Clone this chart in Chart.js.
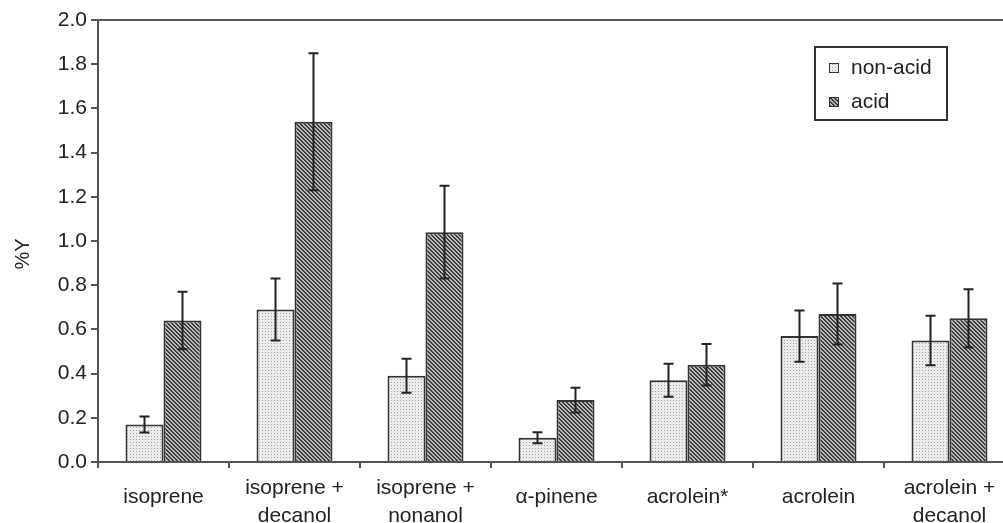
<!DOCTYPE html>
<html lang="en">
<head>
  <meta charset="UTF-8">
  <title>%Y acid / non-acid</title>
  <script src="https://cdn.jsdelivr.net/npm/chart.js"></script>
  <style>
    html, body { margin: 0; padding: 0; background: #fff; overflow: hidden; }
    .grafico { position: relative; width: 1020px; height: 523px; }
  </style>
</head>
<body>
  <div class="grafico">
    <canvas id="myChartCanvas"></canvas>
  </div>

<script>
  // categories (x axis), one entry per line of the label
  const categorias = [
    ['isoprene'],
    ['isoprene +', 'decanol'],
    ['isoprene +', 'nonanol'],
    ['\u03b1-pinene'],
    ['acrolein*'],
    ['acrolein'],
    ['acrolein +', 'decanol']
  ];

  // series values
  const naoAcido = [0.17, 0.69, 0.39, 0.11, 0.37, 0.57, 0.55];
  const erroNaoAcido = [0.036, 0.14, 0.077, 0.025, 0.075, 0.116, 0.112];
  const acido = [0.64, 1.54, 1.04, 0.28, 0.44, 0.67, 0.65];
  const erroAcido = [0.13, 0.31, 0.21, 0.056, 0.094, 0.138, 0.132];

  const nomesSeries = ['non-acid', 'acid'];
  const tituloY = '%Y';

  const fonte = '"Liberation Sans", Arial, sans-serif';
  const corTexto = '#222';

  // fill patterns (dotted light grey, diagonal dark hatch)
  function padraoPontos() {
    const c = document.createElement('canvas');
    c.width = 3; c.height = 3;
    const ctx = c.getContext('2d');
    ctx.fillStyle = '#ececec';
    ctx.fillRect(0, 0, 3, 3);
    ctx.fillStyle = '#a2a2a2';
    ctx.fillRect(1, 1, 1, 1);
    return ctx.createPattern(c, 'repeat');
  }

  function padraoHachura() {
    const c = document.createElement('canvas');
    c.width = 4; c.height = 4;
    const ctx = c.getContext('2d');
    ctx.fillStyle = '#bcbcbc';
    ctx.fillRect(0, 0, 4, 4);
    ctx.fillStyle = '#3a3a3a';
    for (let y = 0; y < 4; y++) {
      ctx.fillRect(y % 4, y, 1, 1);
      ctx.fillRect((y + 1) % 4, y, 1, 1);
    }
    return ctx.createPattern(c, 'repeat');
  }

  const preenchimentos = [padraoPontos(), padraoHachura()];

  // error bars drawn from the bar elements
  const pluginErros = {
    id: 'erros',
    afterDatasetsDraw(chart) {
      const ctx = chart.ctx;
      const y = chart.scales.y;
      ctx.save();
      ctx.strokeStyle = '#222';
      ctx.lineWidth = 2;
      chart.data.datasets.forEach(function (ds, d) {
        const meta = chart.getDatasetMeta(d);
        meta.data.forEach(function (bar, i) {
          const v = ds.data[i];
          const e = ds.erros[i];
          const yTop = y.getPixelForValue(v + e);
          const yBot = y.getPixelForValue(v - e);
          ctx.beginPath();
          ctx.moveTo(bar.x, yTop);
          ctx.lineTo(bar.x, yBot);
          ctx.moveTo(bar.x - 5, yTop);
          ctx.lineTo(bar.x + 5, yTop);
          ctx.moveTo(bar.x - 5, yBot);
          ctx.lineTo(bar.x + 5, yBot);
          ctx.stroke();
        });
      });
      ctx.restore();
    }
  };

  // x labels: single line sits a bit lower than wrapped ones
  const pluginRotulos = {
    id: 'rotulos',
    afterDraw(chart) {
      const ctx = chart.ctx;
      const x = chart.scales.x;
      const base = chart.chartArea.bottom;
      ctx.save();
      ctx.font = '21px ' + fonte;
      ctx.fillStyle = corTexto;
      ctx.textAlign = 'center';
      ctx.textBaseline = 'middle';
      categorias.forEach(function (linhas, i) {
        const px = x.getPixelForValue(i);
        if (linhas.length == 1) {
          ctx.fillText(linhas[0], px, base + 35);
        } else {
          ctx.fillText(linhas[0], px, base + 26);
          ctx.fillText(linhas[1], px, base + 54);
        }
      });

      // y axis title, rotated
      ctx.font = '20px ' + fonte;
      ctx.translate(23, 254);
      ctx.rotate(-Math.PI / 2);
      ctx.fillText(tituloY, 0, 0);
      ctx.restore();
    }
  };

  // top border + boxed legend
  const pluginMoldura = {
    id: 'moldura',
    afterDraw(chart) {
      const ctx = chart.ctx;
      const a = chart.chartArea;
      ctx.save();
      ctx.strokeStyle = '#555';
      ctx.lineWidth = 2;
      ctx.beginPath();
      ctx.moveTo(a.left, a.top);
      ctx.lineTo(a.right, a.top);
      ctx.stroke();

      // legend box
      ctx.strokeStyle = '#333';
      ctx.strokeRect(815, 47, 132, 73);
      ctx.font = '21px ' + fonte;
      ctx.textBaseline = 'middle';
      ctx.textAlign = 'left';
      const ys = [68, 102];
      chart.data.datasets.forEach(function (ds, d) {
        ctx.fillStyle = ds.backgroundColor;
        ctx.fillRect(829, ys[d] - 5, 10, 10);
        ctx.lineWidth = 1;
        ctx.strokeStyle = '#333';
        ctx.strokeRect(829.5, ys[d] - 4.5, 9, 9);
        ctx.fillStyle = corTexto;
        ctx.fillText(ds.label, 851, ys[d]);
      });
      ctx.restore();
    }
  };

  const dados = {
    labels: categorias,
    datasets: [
      {
        label: nomesSeries[0],
        data: naoAcido,
        erros: erroNaoAcido,
        backgroundColor: preenchimentos[0],
        borderColor: '#333',
        borderWidth: 2,
        categoryPercentage: 0.58,
        barPercentage: 1.0
      },
      {
        label: nomesSeries[1],
        data: acido,
        erros: erroAcido,
        backgroundColor: preenchimentos[1],
        borderColor: '#333',
        borderWidth: 2,
        categoryPercentage: 0.58,
        barPercentage: 1.0
      }
    ]
  };

  const config = {
    type: 'bar',
    data: dados,
    options: {
      responsive: true,
      maintainAspectRatio: false,
      animation: false,
      layout: { padding: { top: 20, right: 5, left: 0, bottom: 0 } },
      plugins: {
        legend: { display: false },
        tooltip: { enabled: false }
      },
      scales: {
        x: {
          grid: { offset: true, drawOnChartArea: false, tickLength: 6, color: '#555', lineWidth: 2 },
          border: { display: true, color: '#555', width: 2 },
          ticks: { display: false },
          afterFit: function (s) { s.height = 61; }
        },
        y: {
          min: 0,
          max: 2,
          ticks: {
            stepSize: 0.2,
            callback: function (v) { return v.toFixed(1); },
            font: { family: fonte, size: 21 },
            color: corTexto,
            padding: 4
          },
          grid: { drawOnChartArea: false, tickLength: 7, color: '#555', lineWidth: 2 },
          border: { display: true, color: '#555', width: 2 },
          afterFit: function (s) { s.width = 98; }
        }
      }
    },
    plugins: [pluginErros, pluginRotulos, pluginMoldura]
  };

  new Chart(document.getElementById('myChartCanvas'), config);
</script>
</body>
</html>
